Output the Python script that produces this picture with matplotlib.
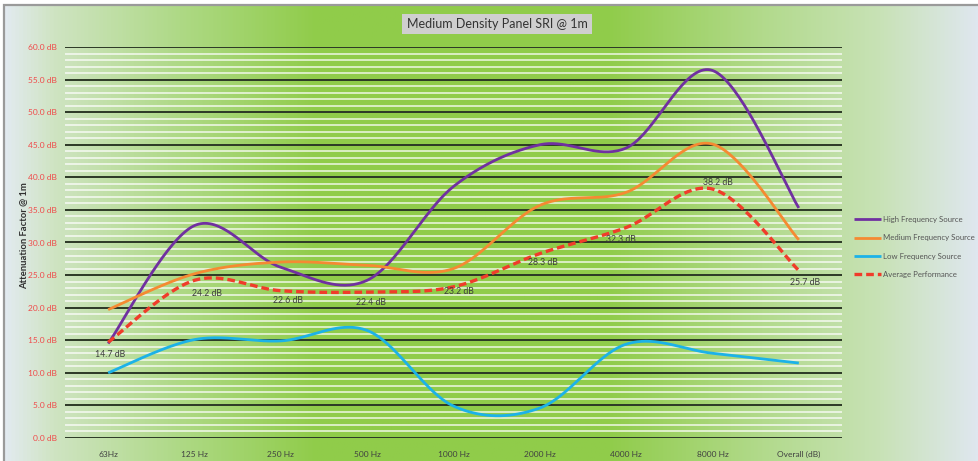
import numpy as np
import matplotlib
matplotlib.use("Agg")
import matplotlib.pyplot as plt
from matplotlib.colors import LinearSegmentedColormap
from matplotlib.ticker import MultipleLocator, FuncFormatter
from matplotlib.patches import Rectangle

# ---------------- data ----------------
categories = ["63Hz", "125 Hz", "250 Hz", "500 Hz", "1000 Hz", "2000 Hz",
              "4000 Hz", "8000 Hz", "Overall (dB)"]
high_freq = [14.5, 32.6, 26.2, 24.2, 38.6, 45.0, 44.5, 56.4, 35.3]
medium_freq = [19.7, 25.2, 27.0, 26.5, 26.0, 35.7, 37.7, 45.1, 30.4]
low_freq = [10.0, 15.1, 14.9, 16.5, 4.9, 4.6, 14.4, 13.0, 11.5]
average_perf = [14.7, 24.2, 22.6, 22.4, 23.2, 28.3, 32.3, 38.2, 25.7]
series_names = ["High Frequency Source", "Medium Frequency Source",
                "Low Frequency Source", "Average Performance"]
title = "Medium Density Panel SRI @ 1m"
ylabel = "Attenuation Factor @ 1m"

plt.rcParams['font.family'] = ['Lato', 'DejaVu Sans']

W, H = 979, 461
fig = plt.figure(figsize=(W / 100, H / 100), dpi=100)
fig.patch.set_facecolor("white")

# background gradient
bg = fig.add_axes([4 / W, 0, 1 - 4 / W, 1 - 5 / H], zorder=-5)
cmap = LinearSegmentedColormap.from_list("bg", [
    (0.0, "#e2eaf0"), (0.05, "#cfe4c2"), (0.18, "#aed985"), (0.32, "#90cc4a"),
    (0.62, "#90cc4a"), (0.78, "#b2da8c"), (0.9, "#c8e2b6"), (1.0, "#dfe7ef")])
grad = np.linspace(0, 1, 512)[None, :]
bg.imshow(np.repeat(grad, 4, axis=0), aspect="auto", cmap=cmap,
          extent=[0, 1, 0, 1])
bg.set_axis_off()
fig.add_artist(Rectangle((4 / W, -0.01), 1, 1 - 5 / H + 0.01,
                         transform=fig.transFigure, fill=False,
                         edgecolor="#9a9a9a", lw=1.6, zorder=-4))

ax = fig.add_axes([65 / W, (H - 438) / H, 777 / W, 391 / H])
ax.set_facecolor("none")
x = np.arange(len(categories))


def smooth(xs, ys, n=40):
    xs = np.asarray(xs, float)
    ys = np.asarray(ys, float)
    px = np.concatenate([[xs[0]], xs, [xs[-1]]])
    py = np.concatenate([[ys[0]], ys, [ys[-1]]])
    outx, outy = [], []
    t = np.linspace(0, 1, n)
    for i in range(1, len(px) - 2):
        p0, p1, p2, p3 = (np.array([px[j], py[j]]) for j in (i - 1, i, i + 1, i + 2))
        c1 = p1 + (p2 - p0) / 6.0
        c2 = p2 - (p3 - p1) / 6.0
        b = ((1 - t) ** 3)[:, None] * p1 + (3 * (1 - t) ** 2 * t)[:, None] * c1 + \
            (3 * (1 - t) * t ** 2)[:, None] * c2 + (t ** 3)[:, None] * p2
        outx.extend(b[:, 0])
        outy.extend(b[:, 1])
    return np.array(outx), np.array(outy)


colors = ["#7030a0", "#f58a32", "#1cb2e8", "#f03c2a"]
lines = []
for vals, col, name in zip([high_freq, medium_freq, low_freq], colors[:3],
                           series_names[:3]):
    sx, sy = smooth(x, vals)
    l, = ax.plot(sx, sy, color=col, lw=2.0, label=name, zorder=3,
                 solid_capstyle="butt")
    lines.append(l)
sx, sy = smooth(x, average_perf)
l, = ax.plot(sx, sy, color=colors[3], lw=2.4, dashes=(2.3, 1.2),
             label=series_names[3], zorder=4)
lines.append(l)

# data labels for average
label_offsets = [(2, -12), (12, -13), (7, -10), (4, -10), (5, -5), (3, -9),
                 (-5, -12), (5, 7), (6, -12)]
for xi, v, (dx, dy) in zip(x, average_perf, label_offsets):
    ax.annotate(f"{v:.1f} dB", (xi, v), xytext=(dx * 0.72, dy * 0.72),
                textcoords="offset points", ha="center", va="center",
                fontsize=6.3, color="#3c3c3c", zorder=5)

ax.set_xlim(-0.5, len(categories) - 0.5)
ax.set_ylim(0, 60)
ax.yaxis.set_major_locator(MultipleLocator(5))
ax.yaxis.set_minor_locator(MultipleLocator(1))
ax.yaxis.set_major_formatter(FuncFormatter(lambda v, p: f"{v:.1f} dB"))
ax.grid(which="minor", axis="y", color="white", lw=1.1, alpha=0.85, zorder=1)
ax.grid(which="major", axis="y", color="#2c3826", lw=1.4, zorder=2)
ax.set_axisbelow(True)
ax.yaxis.get_major_ticks()[0].gridline.set_visible(False)
for s in ax.spines.values():
    s.set_visible(False)
ax.set_xticks(x)
ax.set_xticklabels(categories)
ax.tick_params(axis="x", length=0, pad=9, labelsize=6, labelcolor="#404040")
ax.tick_params(axis="y", which="both", length=0, pad=6, labelsize=6,
               labelcolor="#f04848")
ax.set_ylabel(ylabel, fontsize=6.8, fontweight="bold", color="#303030")
ax.yaxis.set_label_coords(-37 / 777, (438 - 236) / 391)

fig.text(497 / W, 1 - 24 / H, title, ha="center", va="center", fontsize=9,
         color="#333333",
         bbox=dict(boxstyle="square,pad=0.35", facecolor="#cfcfcf",
                   edgecolor="none"))

fig.legend(handles=lines, labels=series_names, loc="upper left",
           bbox_to_anchor=(854 / W, 1 - 216 / H), frameon=False,
           fontsize=5.6, labelcolor="#555555", handlelength=3.5,
           handletextpad=0.2, labelspacing=1.45, borderpad=0,
           borderaxespad=0)

fig.savefig("out.png", dpi=100)
